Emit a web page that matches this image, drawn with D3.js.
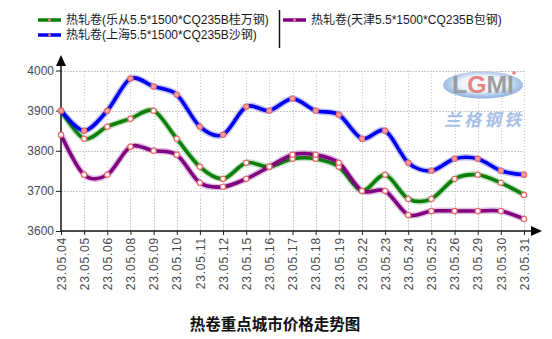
<!DOCTYPE html>
<html>
<head>
<meta charset="utf-8">
<script src="https://cdn.jsdelivr.net/npm/d3@7"></script>
<style>
  html, body { margin: 0; padding: 0; background: #fff; }
  svg { display: block; }
</style>
</head>
<body>
<svg id="chart" width="552" height="339"></svg>
<script>
// Trading dates (May 2023)
const dates = ["23.05.04","23.05.05","23.05.06","23.05.08","23.05.09","23.05.10","23.05.11",
  "23.05.12","23.05.15","23.05.16","23.05.17","23.05.18","23.05.19","23.05.22",
  "23.05.23","23.05.24","23.05.25","23.05.26","23.05.29","23.05.30","23.05.31"];

// Hot-rolled coil prices, yuan/ton
const lecongPrices = [3900,3830,3860,3880,3900,3830,3760,3730,3770,3760,3780,3780,3760,3700,3740,3680,3680,3730,3740,3720,3690];
const shanghaiPrices = [3900,3850,3900,3980,3960,3940,3860,3840,3910,3900,3930,3900,3890,3830,3850,3770,3750,3780,3780,3750,3740];
const tianjinPrices = [3840,3740,3740,3810,3800,3790,3720,3710,3730,3760,3790,3790,3770,3700,3700,3640,3650,3650,3650,3650,3630];

const seriesNames = ["热轧卷(乐从5.5*1500*CQ235B桂万钢)", "热轧卷(上海5.5*1500*CQ235B沙钢)", "热轧卷(天津5.5*1500*CQ235B包钢)"];
const yTicks = [3600, 3700, 3800, 3900, 4000];
const chartTitle = "热卷重点城市价格走势图";

const series = [
  { name: seriesNames[0], values: lecongPrices, color: "#0a7f0a", dotFill: "#fff" },
  { name: seriesNames[2], values: tianjinPrices, color: "#800080", dotFill: "#fff" },
  { name: seriesNames[1], values: shanghaiPrices, color: "#0000f0", dotFill: "#f3a2a2" }
];

const svg = d3.select("#chart");
const plotLeft = 61, plotRight = 524, plotTop = 70.5, plotBottom = 231;

const x = d3.scalePoint().domain(dates).range([plotLeft, plotRight]);
const y = d3.scaleLinear().domain([3600, 4000]).range([plotBottom, plotTop]);

// Grid
const grid = svg.append("g").attr("stroke", "#c9c9c9").attr("stroke-width", 1)
  .attr("stroke-dasharray", "1.5,1.5").attr("shape-rendering", "crispEdges");
grid.selectAll(".h").data(yTicks.slice(1)).join("line")
  .attr("x1", plotLeft).attr("x2", plotRight)
  .attr("y1", d => Math.round(y(d)) + 0.5).attr("y2", d => Math.round(y(d)) + 0.5);
grid.selectAll(".v").data(dates.slice(1)).join("line")
  .attr("y1", plotTop).attr("y2", plotBottom)
  .attr("x1", d => Math.round(x(d)) + 0.5).attr("x2", d => Math.round(x(d)) + 0.5);

// Watermark logo
const logo = svg.append("g").attr("opacity", 0.75);
const grad = svg.append("defs").append("radialGradient").attr("id", "lg")
  .attr("cx", "50%").attr("cy", "45%").attr("r", "55%");
grad.append("stop").attr("offset", "0%").attr("stop-color", "#ffffff");
grad.append("stop").attr("offset", "55%").attr("stop-color", "#e4edf8");
grad.append("stop").attr("offset", "82%").attr("stop-color", "#8fb2df");
grad.append("stop").attr("offset", "100%").attr("stop-color", "#6a96d0");
logo.append("ellipse").attr("cx", 483).attr("cy", 85).attr("rx", 40).attr("ry", 13.5)
  .attr("fill", "url(#lg)");
const lt = logo.append("text").attr("x", 483).attr("y", 93).attr("text-anchor", "middle")
  .attr("font-family", "Liberation Sans, Arial, sans-serif").attr("font-size", 23)
  .attr("font-weight", "bold").attr("fill", "#7d7d7d").attr("textLength", 62)
  .attr("lengthAdjust", "spacingAndGlyphs");
lt.append("tspan").text("L");
lt.append("tspan").attr("fill", "#e05a5a").text("G");
lt.append("tspan").text("MI");
logo.append("circle").attr("cx", 514).attr("cy", 73).attr("r", 1.8).attr("fill", "#e05a5a");
logo.append("text").attr("x", 484).attr("y", 126).attr("text-anchor", "middle")
  .attr("font-family", "Noto Sans CJK SC, sans-serif").attr("font-size", 17)
  .attr("font-weight", "bold").attr("font-style", "italic").attr("letter-spacing", 3)
  .attr("fill", "#8aace0").text("兰格钢铁");

// Y axis
const yAxis = d3.axisLeft(y).tickValues(yTicks).tickSize(5).tickPadding(2).tickFormat(d3.format("d"));
const ya = svg.append("g").attr("transform", `translate(${plotLeft},0)`).call(yAxis);
ya.select(".domain").remove();
ya.selectAll(".tick line").attr("stroke", "#222");
ya.selectAll("text").attr("font-family", "Liberation Sans, Arial, sans-serif")
  .attr("font-size", 12).attr("fill", "#4a4a4a");
svg.append("line").attr("x1", plotLeft).attr("x2", plotLeft).attr("y1", plotBottom).attr("y2", 62)
  .attr("stroke", "#111").attr("stroke-width", 1.5);
svg.append("path").attr("d", `M${plotLeft},55 L${plotLeft - 5},66 L${plotLeft + 5},66 Z`).attr("fill", "#000");

// X axis
const xAxis = d3.axisBottom(x).tickSize(4).tickPadding(4);
const xa = svg.append("g").attr("transform", `translate(0,${plotBottom})`).call(xAxis);
xa.select(".domain").remove();
xa.selectAll(".tick line").attr("stroke", "#222");
xa.selectAll("text")
  .attr("font-family", "Liberation Sans, Arial, sans-serif").attr("font-size", 12)
  .attr("letter-spacing", 0.8).attr("fill", "#4a4a4a")
  .attr("text-anchor", "end").attr("dy", "0.35em")
  .attr("transform", "rotate(-90)").attr("x", -6).attr("y", 0);
svg.append("line").attr("x1", plotLeft).attr("x2", 533).attr("y1", plotBottom).attr("y2", plotBottom)
  .attr("stroke", "#111").attr("stroke-width", 1.5);
svg.append("path").attr("d", `M542,${plotBottom} L531,${plotBottom - 5} L531,${plotBottom + 5} Z`).attr("fill", "#000");

// Lines
const line = d3.line().x((d, i) => x(dates[i])).y(d => y(d)).curve(d3.curveCardinal.tension(0.1));
const lines = svg.append("g").attr("fill", "none").attr("stroke-linecap", "round");
series.forEach(s => {
  lines.append("path").attr("d", line(s.values)).attr("stroke", s.color)
    .attr("stroke-width", 6.5).attr("stroke-opacity", 0.25);
  lines.append("path").attr("d", line(s.values)).attr("stroke", s.color)
    .attr("stroke-width", 3.6);
});
series.forEach(s => {
  svg.append("g").selectAll("circle").data(s.values).join("circle")
    .attr("cx", (d, i) => x(dates[i])).attr("cy", d => y(d)).attr("r", 2.6)
    .attr("fill", s.dotFill).attr("stroke", "#ec6a6a").attr("stroke-width", 1.2);
});

// Legend
const legendItems = [
  { name: seriesNames[0], color: "#0a7f0a", x: 38, y: 20 },
  { name: seriesNames[1], color: "#0000f0", x: 38, y: 35 },
  { name: seriesNames[2], color: "#800080", x: 283, y: 20 }
];
const lg = svg.append("g");
legendItems.forEach(it => {
  lg.append("line").attr("x1", it.x).attr("x2", it.x + 23).attr("y1", it.y).attr("y2", it.y)
    .attr("stroke", it.color).attr("stroke-width", 3.5);
  lg.append("circle").attr("cx", it.x + 11.5).attr("cy", it.y).attr("r", 1.4).attr("fill", "#f08080");
  lg.append("text").attr("x", it.x + 28).attr("y", it.y).attr("dy", "0.36em")
    .attr("font-family", "Liberation Sans, Noto Sans CJK SC, sans-serif").attr("font-size", 12)
    .attr("fill", "#1a1a1a").text(it.name);
});
lg.append("line").attr("x1", 279.5).attr("x2", 279.5).attr("y1", 10).attr("y2", 48)
  .attr("stroke", "#111").attr("stroke-width", 1.5);

// Title
svg.append("text").attr("x", 275).attr("y", 325).attr("dy", "0.35em").attr("text-anchor", "middle")
  .attr("font-family", "Noto Sans CJK SC, sans-serif").attr("font-size", 15.5)
  .attr("font-weight", "bold").attr("fill", "#111").text(chartTitle);
</script>
</body>
</html>
